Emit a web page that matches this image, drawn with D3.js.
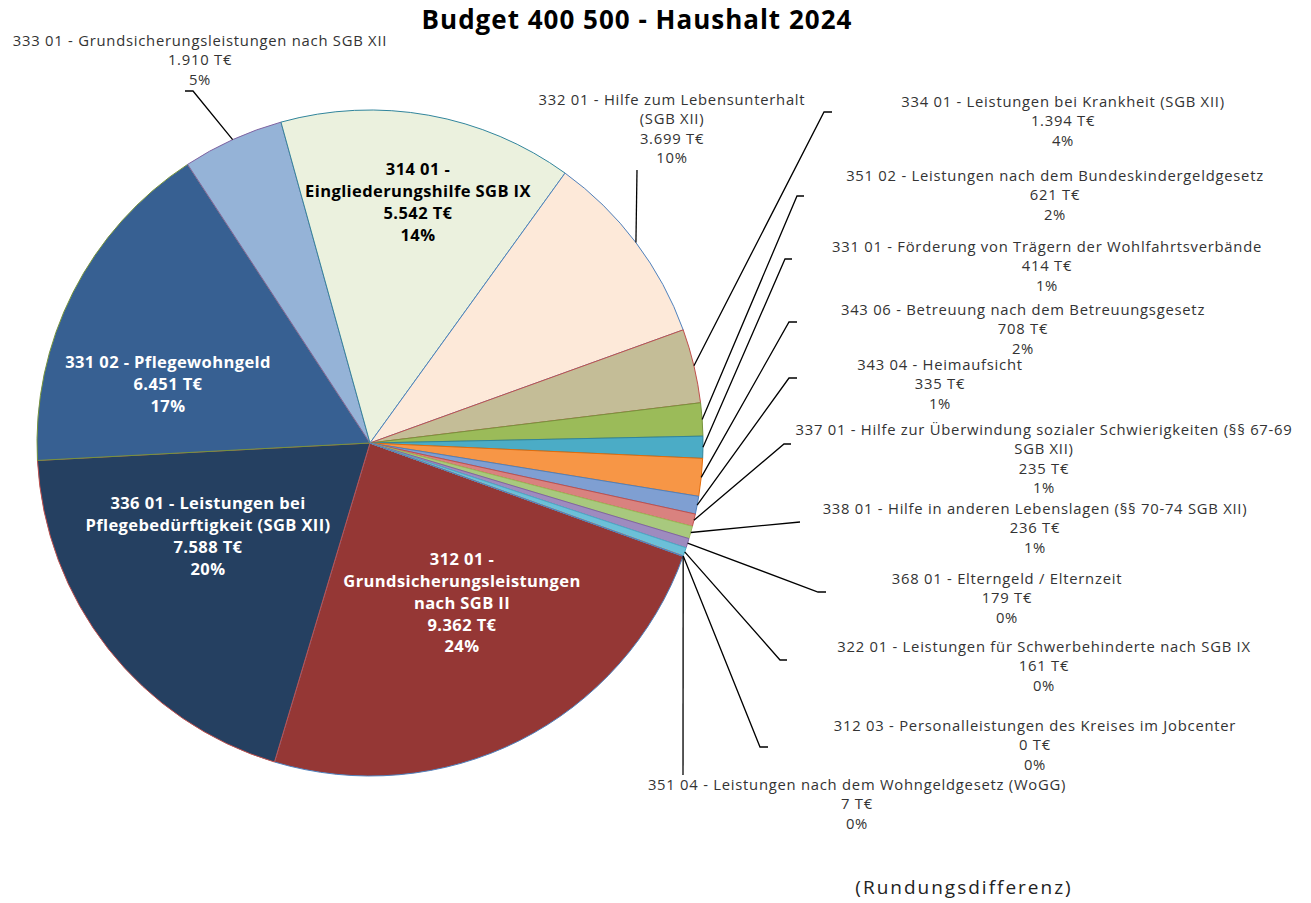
<!DOCTYPE html>
<html><head><meta charset="utf-8">
<script src="https://cdn.jsdelivr.net/npm/d3@7"></script>
<style>
html,body{margin:0;padding:0;background:#fff;}
svg{display:block;}
</style></head>
<body>
<svg id="chart" width="1311" height="903"></svg>
<script>
// ---- data ----
const codes = ["312 01","336 01","331 02","333 01","314 01","332 01","334 01","351 02","331 01","343 06","343 04","337 01","338 01","368 01","322 01","312 03","351 04"];
const names = [
  "Grundsicherungsleistungen nach SGB II",
  "Leistungen bei Pflegebedürftigkeit (SGB XII)",
  "Pflegewohngeld",
  "Grundsicherungsleistungen nach SGB XII",
  "Eingliederungshilfe SGB IX",
  "Hilfe zum Lebensunterhalt (SGB XII)",
  "Leistungen bei Krankheit (SGB XII)",
  "Leistungen nach dem Bundeskindergeldgesetz",
  "Förderung von Trägern der Wohlfahrtsverbände",
  "Betreuung nach dem Betreuungsgesetz",
  "Heimaufsicht",
  "Hilfe zur Überwindung sozialer Schwierigkeiten (§§ 67-69 SGB XII)",
  "Hilfe in anderen Lebenslagen (§§ 70-74 SGB XII)",
  "Elterngeld / Elternzeit",
  "Leistungen für Schwerbehinderte nach SGB IX",
  "Personalleistungen des Kreises im Jobcenter",
  "Leistungen nach dem Wohngeldgesetz (WoGG)"
];
const values = [9362,7588,6451,1910,5542,3699,1394,621,414,708,335,235,236,179,161,0,7];
// label text lines (as wrapped in the chart)
const labelText = [
  ["312 01 -","Grundsicherungsleistungen","nach SGB II"],
  ["336 01 - Leistungen bei","Pflegebedürftigkeit (SGB XII)"],
  ["331 02 - Pflegewohngeld"],
  ["333 01 - Grundsicherungsleistungen nach SGB XII"],
  ["314 01 -","Eingliederungshilfe SGB IX"],
  ["332 01 - Hilfe zum Lebensunterhalt","(SGB XII)"],
  ["334 01 - Leistungen bei Krankheit (SGB XII)"],
  ["351 02 - Leistungen nach dem Bundeskindergeldgesetz"],
  ["331 01 - Förderung von Trägern der Wohlfahrtsverbände"],
  ["343 06 - Betreuung nach dem Betreuungsgesetz"],
  ["343 04 - Heimaufsicht"],
  ["337 01 - Hilfe zur Überwindung sozialer Schwierigkeiten (§§ 67-69","SGB XII)"],
  ["338 01 - Hilfe in anderen Lebenslagen (§§ 70-74 SGB XII)"],
  ["368 01 - Elterngeld / Elternzeit"],
  ["322 01 - Leistungen für Schwerbehinderte nach SGB IX"],
  ["312 03 - Personalleistungen des Kreises im Jobcenter"],
  ["351 04 - Leistungen nach dem Wohngeldgesetz (WoGG)"]
];
const titleText = "Budget 400 500 - Haushalt 2024";
const noteText = "(Rundungsdifferenz)";

// ---- style / layout ----
const fills = ["#953735","#254061","#376092","#95B3D7","#EBF1DE","#FDE9D9","#C4BD97","#9BBB59","#4BACC6","#F79646","#7F9FD2","#D9827F","#A8C97E","#9E8BBF","#6CC0D8","#F2A46B","#BFBFBF"];
const strokes = ["#4F81BD","#C0504D","#77933C","#8064A2","#31859C","#4F81BD","#C0504D","#77933C","#31859C","#E46C0A","#4F81BD","#C0504D","#9BBB59","#8064A2","#4BACC6","#F79646","#4F81BD"];
const inside = [true,true,true,false,true,false,false,false,false,false,false,false,false,false,false,false,false];
const insideColor = ["#fff","#fff","#fff",null,"#000"];
// label block anchor: [centerX, firstLineY]
const labelPos = [
  [462,561],[208,505],[168,364],[200,42],[418,171],
  [672,101],[1063,103],[1055,177],[1047,248],[1023,311],[940,366],
  [1044,431],[1035,510],[1007,580],[1044,648],[1035,727],[857,786]
];
// leader line label-side end and tick end
const leaderEnd = [
  null,null,null,[[193,91],[185,91]],null,
  [[637,170],null],[[824,112],[832,112]],[[797,196],[804,196]],[[785,259],[792,259]],
  [[789,322],[797,322]],[[789,378],[797,378]],[[784,444],[791,444]],[[800,522],null],
  [[818,592],[826,592]],[[780,660],[787,660]],[[760,747],[768,747]],[[683,775],null]
];

const cx = 370, cy = 443, R = 333;
const startDeg = 109.9;
const total = d3.sum(values);
const loc = d3.formatLocale({decimal:",",thousands:".",grouping:[3],currency:["","€"]});
const fmt = loc.format(",d");

const svg = d3.select("#chart");
const font = "'Open Sans', Lato, sans-serif";

svg.append("text").attr("x",637).attr("y",22).attr("text-anchor","middle")
  .attr("dominant-baseline","middle").attr("font-family",font).attr("font-weight",700)
  .attr("font-size",26).attr("letter-spacing",1).attr("fill","#000").text(titleText);

const pie = d3.pie().sort(null).value(d=>d)
  .startAngle(startDeg*Math.PI/180).endAngle(startDeg*Math.PI/180+2*Math.PI);
const arcs = pie(values);
const arc = d3.arc().innerRadius(0).outerRadius(R);
const edgeArc = d3.arc().innerRadius(R).outerRadius(R);

const g = svg.append("g").attr("transform",`translate(${cx},${cy})`);
g.selectAll("path").data(arcs).join("path")
  .attr("d",arc).attr("fill",(d,i)=>fills[i]).attr("stroke",(d,i)=>strokes[i])
  .attr("stroke-width",1).attr("stroke-linejoin","round");

// leader lines
arcs.forEach((a,i)=>{
  const le = leaderEnd[i];
  if(!le) return;
  const c = edgeArc.centroid(a);
  const pts = [[cx+c[0],cy+c[1]], le[0]];
  if(le[1]) pts.push(le[1]);
  svg.append("path").attr("d",d3.line()(pts)).attr("fill","none")
    .attr("stroke","#000").attr("stroke-width",1.3);
});

// labels
arcs.forEach((a,i)=>{
  const lines = labelText[i].concat([fmt(values[i])+" T€", Math.round(values[i]/total*100)+"%"]);
  const [x,y] = labelPos[i];
  const isIn = inside[i];
  const lh = isIn ? 21.7 : 19.4;
  const t = svg.append("text").attr("text-anchor","middle").attr("font-family",font)
    .attr("font-size",isIn?16.5:14.8).attr("font-weight",isIn?700:400)
    .attr("letter-spacing",isIn?0.4:0.75)
    .attr("fill",isIn?insideColor[i]:"#333");
  lines.forEach((l,k)=>{
    t.append("tspan").attr("x",x).attr("y",y+k*lh).attr("dominant-baseline","middle").text(l);
  });
});

svg.append("text").attr("x",964).attr("y",889).attr("text-anchor","middle")
  .attr("dominant-baseline","middle").attr("font-family",font).attr("font-size",19)
  .attr("letter-spacing",2).attr("fill","#222").text(noteText);
</script>
</body></html>
